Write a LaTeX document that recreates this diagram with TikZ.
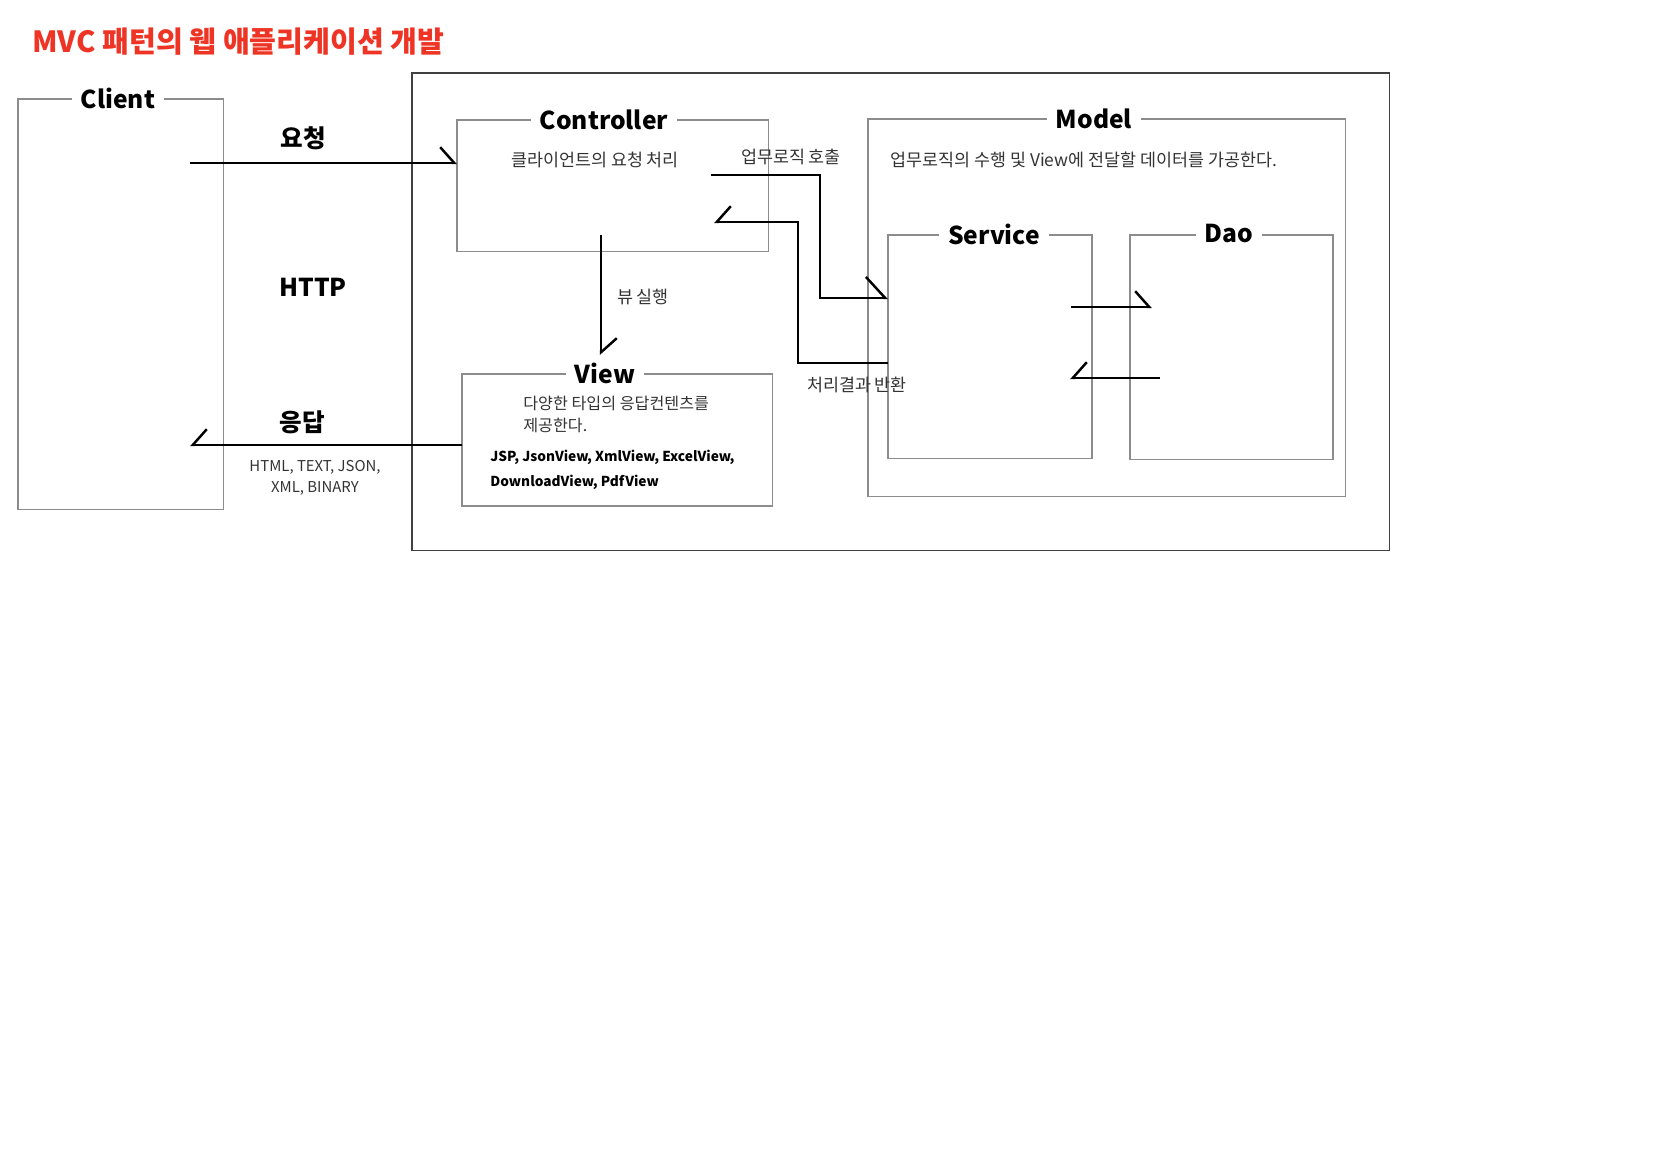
\documentclass[tikz,border=0pt]{standalone}
\usepackage{fontspec}
\setmainfont{Noto Sans CJK KR}
\usetikzlibrary{positioning}
\usetikzlibrary{arrows.meta}
\definecolor{titlered}{RGB}{238,52,36}
\tikzset{
    frame/.style = {rectangle, draw=black!45, line width=0.6pt, inner sep=0pt, outer sep=0pt, anchor=north west},
    tag/.style = {fill=white, inner xsep=5pt, inner ysep=1pt, font=\bfseries\fontsize{14}{16}\selectfont},
    bignote/.style = {font=\bfseries\fontsize{14}{16}\selectfont},
    note/.style = {font=\fontsize{9.9}{12.5}\selectfont, text=black!80, align=left},
    edgel/.style = {-{Straight Barb[left,length=8pt,width=18pt]}, line width=1.4pt},
    edger/.style = {-{Straight Barb[right,length=8pt,width=18pt]}, line width=1.4pt},
    edgelb/.style = {-{Straight Barb[left,length=11pt,width=24pt]}, line width=1.4pt},
}

\begin{document}
\begin{tikzpicture}[x=0.02cm,y=-0.02cm]
\useasboundingbox (0,0) rectangle (1672,1168);
\node[anchor=west, inner sep=0pt, text=titlered, font=\bfseries\fontsize{16.6}{18}\selectfont] at (32,42) (title) {MVC 패턴의 웹 애플리케이션 개발};
%
\node[frame, draw=black!75, minimum width=19.56cm, minimum height=9.56cm] at (412,73) (mvc) {};
\node[frame, minimum width=4.12cm, minimum height=8.22cm] at (18,99) (client) {};
\node[frame, minimum width=6.24cm, minimum height=2.64cm] at (457,120) (ctrl) {};
\node[frame, minimum width=6.22cm, minimum height=2.64cm] at (462,374) (view) {};
\node[frame, minimum width=9.56cm, minimum height=7.56cm] at (868,119) (model) {};
\node[frame, minimum width=4.08cm, minimum height=4.48cm] at (888,235) (svc) {};
\node[frame, minimum width=4.06cm, minimum height=4.50cm] at (1130,235) (dao) {};
%
\node[tag] at (118,98) (clienttag) {Client};
\node[tag] at (604,120) (ctrltag) {Controller};
\node[tag] at (605,373) (viewtag) {View};
\node[tag] at (1094,119) (modeltag) {Model};
\node[tag] at (994,234) (svctag) {Service};
\node[tag] at (1229,234) (daotag) {Dao};
%
\node[bignote] at (303,138) (req) {요청};
\node[bignote] at (313,287) (http) {HTTP};
\node[bignote] at (302,422) (resp) {응답};
\node[note, align=center, font=\fontsize{8.5}{12}\selectfont] at (315,478) (types) {HTML, TEXT, JSON,\\XML, BINARY};
\node[note] at (595,160) (ctrldesc) {클라이언트의 요청 처리};
\node[note] at (791,157) (calltxt) {업무로직 호출};
\node[note] at (643,297) (runtxt) {뷰 실행};
\node[note] at (857,385) (rettxt) {처리결과 반환};
\node[note, anchor=west, inner sep=0pt] at (890,160) (modeldesc) {업무로직의 수행 및 View에 전달할 데이터를 가공한다.};
\node[note, anchor=west, inner sep=0pt, font=\fontsize{9.2}{12.5}\selectfont] at (523,414) (viewdesc) {다양한 타입의 응답컨텐츠를\\제공한다.};
\node[note, anchor=west, inner sep=0pt, text=black, font=\bfseries\fontsize{7.8}{14}\selectfont] at (490,470) (viewlist) {JSP, JsonView, XmlView, ExcelView,\\DownloadView, PdfView};
%
\coordinate (reqs) at (190,163);
\coordinate (resps) at (190,445);
\coordinate (runs) at (601,235);
\coordinate (rune) at (601,355);
\coordinate (calls) at (711,175);
\coordinate (callm) at (820,298);
\coordinate (retm) at (798,363);
\coordinate (rete) at (714,222);
\coordinate (sds) at (1071,307);
\coordinate (sde) at (1152,307);
\coordinate (dss) at (1160,378);
\coordinate (dse) at (1070,378);
%
\draw[edgel] (reqs) -- (reqs -| ctrl.west);
\draw[edger] (resps -| view.west) -- (resps);
\draw[edgel] (runs) -- (rune);
\draw[edgelb] (calls) -| (callm) -- (callm -| svc.west);
\draw[edger] (svc.west |- retm) -- (retm) |- (rete);
\draw[edgel] (sds) -- (sde);
\draw[edger] (dss) -- (dse);
\end{tikzpicture}
\end{document}
